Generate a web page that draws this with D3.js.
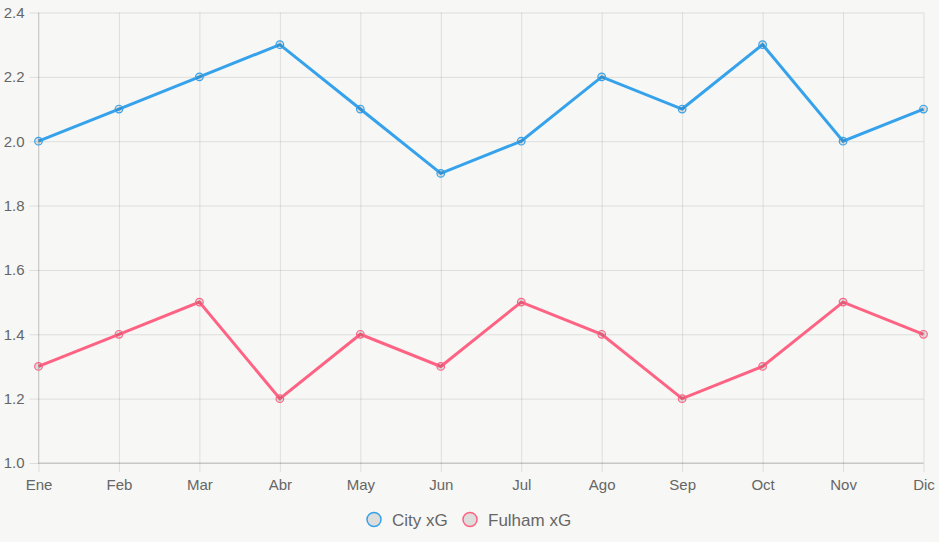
<!DOCTYPE html>
<html>
<head>
<meta charset="utf-8">
<script src="https://cdn.jsdelivr.net/npm/d3@7"></script>
<style>
  body { margin: 0; background: #f7f7f5; }
  svg { display: block; }
</style>
</head>
<body>
<svg id="chart" width="939" height="542"></svg>
<script>
const months = ["Ene", "Feb", "Mar", "Abr", "May", "Jun", "Jul", "Ago", "Sep", "Oct", "Nov", "Dic"];
const cityXG = [2.0, 2.1, 2.2, 2.3, 2.1, 1.9, 2.0, 2.2, 2.1, 2.3, 2.0, 2.1];
const fulhamXG = [1.3, 1.4, 1.5, 1.2, 1.4, 1.3, 1.5, 1.4, 1.2, 1.3, 1.5, 1.4];
const yTicks = [1.0, 1.2, 1.4, 1.6, 1.8, 2.0, 2.2, 2.4];

const series = [
    { name: "City xG", values: cityXG, color: "#36a2eb" },
    { name: "Fulham xG", values: fulhamXG, color: "#ff6384" }
];

const svg = d3.select("#chart");
const width = 939;
const height = 542;

// plot area
const plotLeft = 38.5, plotRight = 923.5, plotTop = 12.5, plotBottom = 463;
const grid = "rgba(0,0,0,0.1)";
const font = "'Liberation Sans', Arial, sans-serif";

const x = d3.scalePoint().domain(months).range([plotLeft, plotRight]);
const y = d3.scaleLinear().domain([1.0, 2.4]).range([plotBottom, plotTop]);

svg.append("rect")
    .attr("width", width)
    .attr("height", height)
    .attr("fill", "#f7f7f5");

// y axis: gridlines + labels
const yAxis = svg.append("g")
    .attr("transform", `translate(${plotLeft},0)`)
    .call(d3.axisLeft(y).tickValues(yTicks).tickFormat(d3.format(".1f"))
        .tickSize(-(plotRight - plotLeft)).tickPadding(14));
yAxis.select(".domain").remove();
yAxis.selectAll(".tick line")
    .attr("x1", -9)
    .attr("stroke", grid);
yAxis.selectAll(".tick text")
    .attr("x", -14)
    .attr("fill", "#666")
    .attr("font-size", "15px")
    .attr("font-family", font);

// x axis: gridlines + labels
const xAxis = svg.append("g")
    .attr("transform", `translate(0,${plotBottom})`)
    .call(d3.axisBottom(x).tickSize(-(plotBottom - plotTop)).tickPadding(14));
xAxis.select(".domain").remove();
xAxis.selectAll(".tick line")
    .attr("y1", 9)
    .attr("stroke", grid);
xAxis.selectAll(".tick text")
    .attr("y", 16)
    .attr("fill", "#666")
    .attr("font-size", "15px")
    .attr("font-family", font);

// axis border lines
svg.append("line")
    .attr("x1", plotLeft).attr("x2", plotLeft)
    .attr("y1", plotTop).attr("y2", plotBottom + 0.5)
    .attr("stroke", "rgba(0,0,0,0.13)");
svg.append("line")
    .attr("x1", plotLeft).attr("x2", plotRight)
    .attr("y1", plotBottom).attr("y2", plotBottom)
    .attr("stroke", "rgba(0,0,0,0.2)");

const line = d3.line()
    .x((d, i) => x(months[i]))
    .y(d => y(d));

series.forEach(s => {
    svg.append("path")
        .datum(s.values)
        .attr("d", line)
        .attr("fill", "none")
        .attr("stroke", s.color)
        .attr("stroke-width", 3)
        .attr("stroke-linejoin", "miter");

    svg.selectAll(null)
        .data(s.values)
        .enter()
        .append("circle")
        .attr("cx", (d, i) => x(months[i]))
        .attr("cy", d => y(d))
        .attr("r", 3.8)
        .attr("fill", "rgba(0,0,0,0.1)")
        .attr("stroke", s.color)
        .attr("stroke-width", 1.2);
});

// legend
const legendX = [374, 470];
series.forEach((s, i) => {
    svg.append("circle")
        .attr("cx", legendX[i])
        .attr("cy", 519.5)
        .attr("r", 7)
        .attr("fill", "rgba(0,0,0,0.1)")
        .attr("stroke", s.color)
        .attr("stroke-width", 1.5);
    svg.append("text")
        .attr("x", legendX[i] + 18)
        .attr("y", 525.5)
        .attr("fill", "#666")
        .attr("font-size", "17px")
        .attr("font-family", font)
        .text(s.name);
});
</script>
</body>
</html>
